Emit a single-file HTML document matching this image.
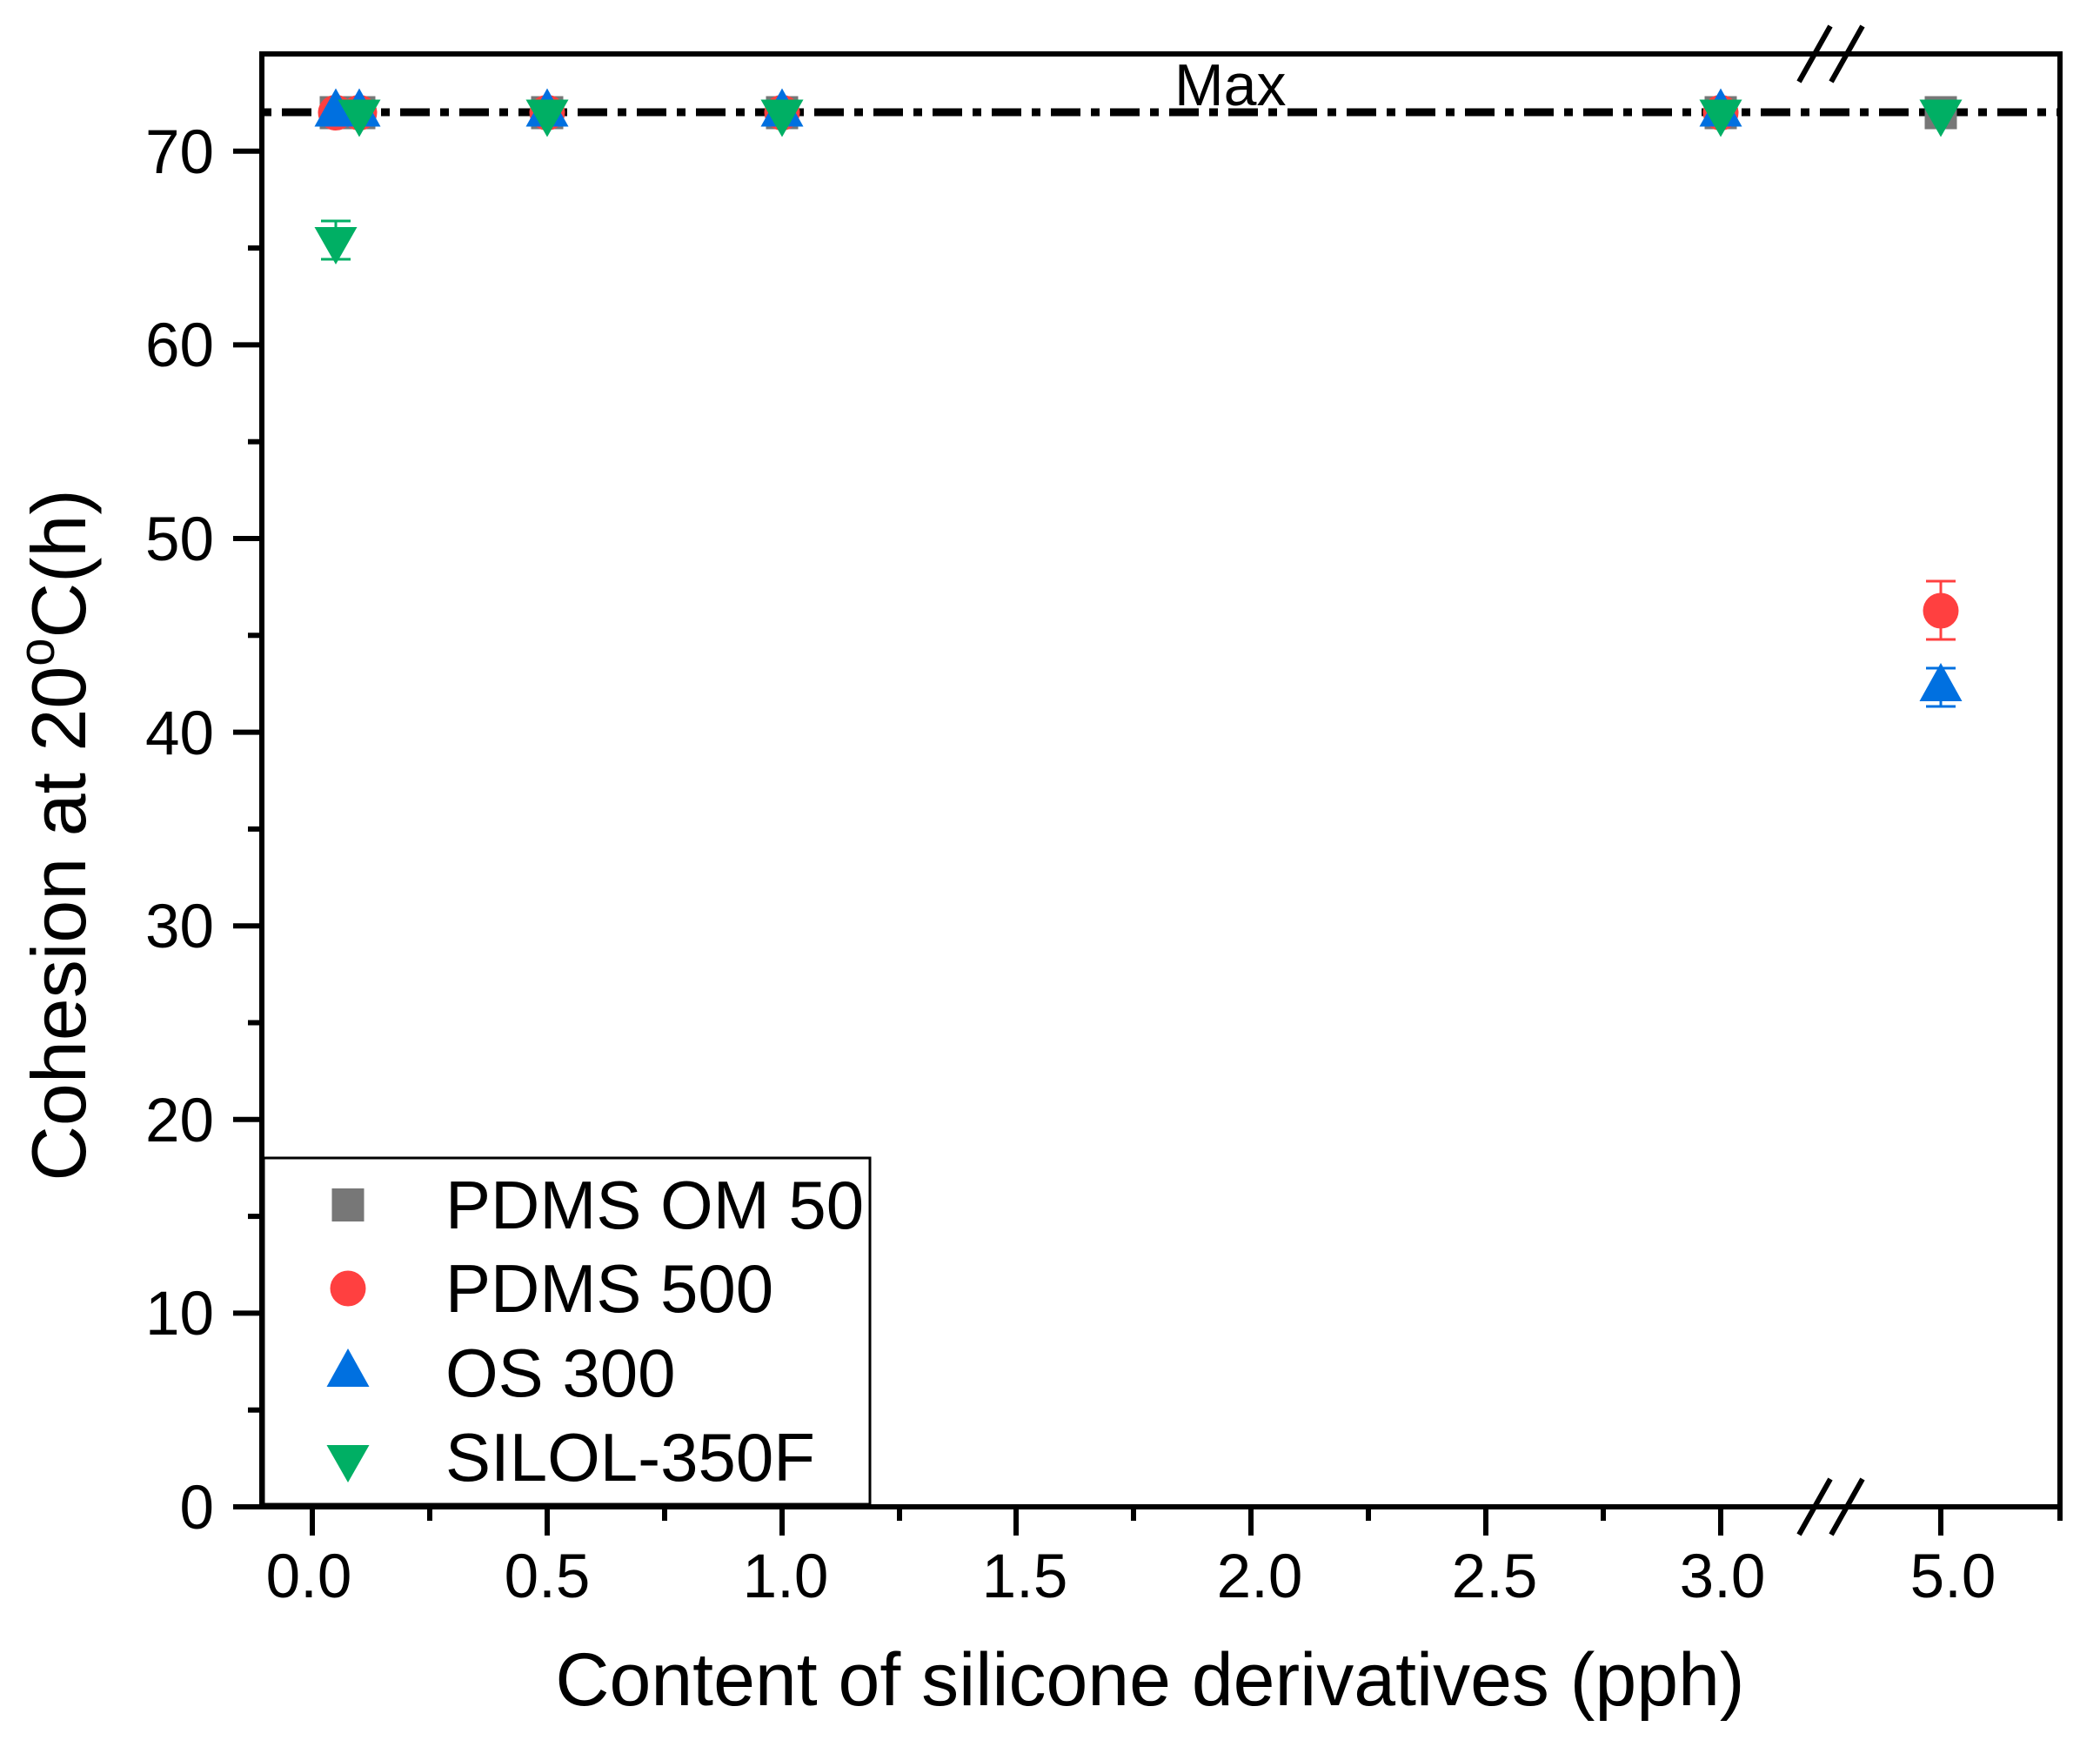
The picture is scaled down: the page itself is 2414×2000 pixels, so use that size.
<!DOCTYPE html>
<html><head><meta charset="utf-8"><style>html,body{margin:0;padding:0;background:#fff}svg{display:block}</style></head>
<body>
<svg width="2414" height="2000" viewBox="0 0 2414 2000" xmlns="http://www.w3.org/2000/svg" font-family="Liberation Sans, Arial, sans-serif">
<defs>
<g id="sq"><rect x="-18.5" y="-19" width="37" height="38" fill="#777777"/></g>
<g id="ci"><circle cx="0" cy="0" r="20.5" fill="#FF4040"/></g>
<g id="up"><polygon points="0,-28 24.5,16 -24.5,16" fill="#0070E0"/></g>
<g id="dn"><polygon points="0,28 24.5,-15 -24.5,-15" fill="#00AF64"/></g>
</defs>
<rect width="2414" height="2000" fill="#fff"/>
<line x1="304" y1="129" x2="2366" y2="129" stroke="#000" stroke-width="9" stroke-dasharray="34 12 10 12" stroke-dashoffset="-20"/>
<text x="1350" y="121" font-size="68">Max</text>
<g stroke="#000" stroke-width="6" fill="none">
<line x1="301" y1="62" x2="301" y2="1735"/>
<line x1="298" y1="62" x2="2371" y2="62"/>
<line x1="2368" y1="59" x2="2368" y2="1748"/>
<line x1="268" y1="1732" x2="2371" y2="1732"/>
</g>
<g stroke="#000" stroke-width="6">
<line x1="268" y1="1732" x2="301" y2="1732"/>
<line x1="268" y1="1509.4" x2="301" y2="1509.4"/>
<line x1="268" y1="1286.8" x2="301" y2="1286.8"/>
<line x1="268" y1="1064.2" x2="301" y2="1064.2"/>
<line x1="268" y1="841.6" x2="301" y2="841.6"/>
<line x1="268" y1="619" x2="301" y2="619"/>
<line x1="268" y1="396.4" x2="301" y2="396.4"/>
<line x1="268" y1="173.8" x2="301" y2="173.8"/>
<line x1="285" y1="1620.7" x2="301" y2="1620.7"/>
<line x1="285" y1="1398.1" x2="301" y2="1398.1"/>
<line x1="285" y1="1175.5" x2="301" y2="1175.5"/>
<line x1="285" y1="952.9" x2="301" y2="952.9"/>
<line x1="285" y1="730.3" x2="301" y2="730.3"/>
<line x1="285" y1="507.7" x2="301" y2="507.7"/>
<line x1="285" y1="285.1" x2="301" y2="285.1"/>
</g>
<g font-size="71" text-anchor="end">
<text x="246" y="1757">0</text>
<text x="246" y="1534">10</text>
<text x="246" y="1312">20</text>
<text x="246" y="1089">30</text>
<text x="246" y="867">40</text>
<text x="246" y="644">50</text>
<text x="246" y="421">60</text>
<text x="246" y="199">70</text>
</g>
<g stroke="#000" stroke-width="6">
<line x1="359" y1="1732" x2="359" y2="1765"/>
<line x1="629" y1="1732" x2="629" y2="1765"/>
<line x1="899" y1="1732" x2="899" y2="1765"/>
<line x1="1168" y1="1732" x2="1168" y2="1765"/>
<line x1="1438" y1="1732" x2="1438" y2="1765"/>
<line x1="1708" y1="1732" x2="1708" y2="1765"/>
<line x1="1978" y1="1732" x2="1978" y2="1765"/>
<line x1="2231" y1="1732" x2="2231" y2="1765"/>
<line x1="494" y1="1732" x2="494" y2="1748"/>
<line x1="764" y1="1732" x2="764" y2="1748"/>
<line x1="1034" y1="1732" x2="1034" y2="1748"/>
<line x1="1303" y1="1732" x2="1303" y2="1748"/>
<line x1="1573" y1="1732" x2="1573" y2="1748"/>
<line x1="1843" y1="1732" x2="1843" y2="1748"/>
</g>
<g stroke="#000" stroke-width="6">
<line x1="2068" y1="1764" x2="2104" y2="1700"/>
<line x1="2105" y1="1764" x2="2141" y2="1700"/>
<line x1="2068" y1="94" x2="2104" y2="30"/>
<line x1="2105" y1="94" x2="2141" y2="30"/>
</g>
<g font-size="71" text-anchor="middle">
<text x="355" y="1836">0.0</text>
<text x="629" y="1836">0.5</text>
<text x="903" y="1836">1.0</text>
<text x="1178" y="1836">1.5</text>
<text x="1448" y="1836">2.0</text>
<text x="1718" y="1836">2.5</text>
<text x="1980" y="1836">3.0</text>
<text x="2245" y="1836">5.0</text>
</g>
<text x="1322" y="1960" font-size="86" text-anchor="middle">Content of silicone derivatives (pph)</text>
<text transform="translate(98,960) rotate(-90)" font-size="88" text-anchor="middle">Cohesion at 20<tspan font-size="58" dy="-36">o</tspan><tspan dy="36">C(h)</tspan></text>
<g stroke="#00AF64" stroke-width="3"><line x1="386" y1="254" x2="386" y2="298"/><line x1="369" y1="254" x2="403" y2="254"/><line x1="369" y1="298" x2="403" y2="298"/></g>
<g stroke="#FF4040" stroke-width="3"><line x1="2231" y1="668" x2="2231" y2="735"/><line x1="2214" y1="668" x2="2248" y2="668"/><line x1="2214" y1="735" x2="2248" y2="735"/></g>
<g stroke="#0070E0" stroke-width="3"><line x1="2231" y1="768" x2="2231" y2="812"/><line x1="2214" y1="768" x2="2248" y2="768"/><line x1="2214" y1="812" x2="2248" y2="812"/></g>
<use href="#sq" x="386" y="129.5"/><use href="#sq" x="413" y="129.5"/><use href="#sq" x="629" y="129.5"/><use href="#sq" x="899" y="129.5"/><use href="#sq" x="1978" y="129.5"/><use href="#sq" x="2231" y="129.5"/>
<use href="#ci" x="386" y="129.5"/><use href="#ci" x="413" y="129.5"/><use href="#ci" x="629" y="129.5"/><use href="#ci" x="899" y="129.5"/><use href="#ci" x="1978" y="129.5"/><use href="#ci" x="2231" y="702"/>
<use href="#up" x="386" y="129.5"/><use href="#up" x="413" y="129.5"/><use href="#up" x="629" y="129.5"/><use href="#up" x="899" y="129.5"/><use href="#up" x="1978" y="129.5"/><use href="#up" x="2231" y="790"/>
<use href="#dn" x="386" y="276"/><use href="#dn" x="413" y="129.5"/><use href="#dn" x="629" y="129.5"/><use href="#dn" x="899" y="129.5"/><use href="#dn" x="1978" y="129.5"/><use href="#dn" x="2231" y="129.5"/>
<rect x="303" y="1331" width="697" height="398" fill="#fff" stroke="#000" stroke-width="3"/>
<use href="#sq" x="400" y="1385"/>
<use href="#ci" x="400" y="1481"/>
<use href="#up" x="400" y="1578"/>
<use href="#dn" x="400" y="1676"/>
<g font-size="78">
<text x="512" y="1412">PDMS OM 50</text>
<text x="512" y="1508">PDMS 500</text>
<text x="512" y="1605">OS 300</text>
<text x="512" y="1702">SILOL-350F</text>
</g>
</svg>
</body></html>
